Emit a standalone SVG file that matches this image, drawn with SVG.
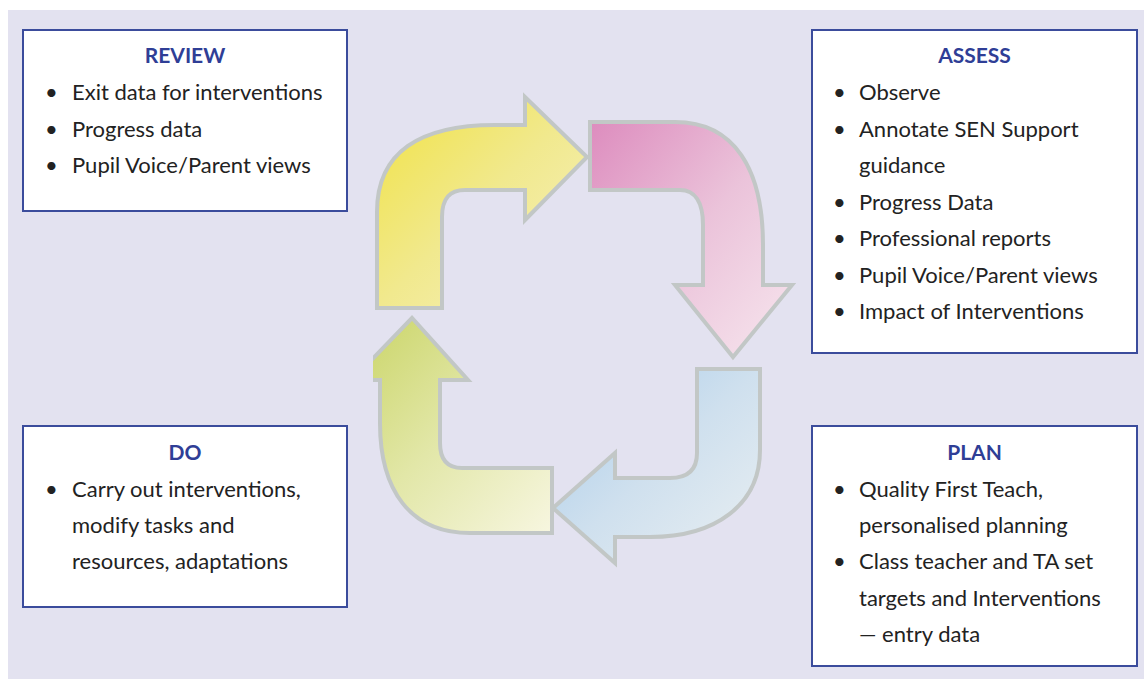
<svg xmlns="http://www.w3.org/2000/svg" width="1144" height="679" viewBox="0 0 1144 679">
<defs>
<style>
.box{fill:#fff;stroke:#3b4c9c;stroke-width:2}
.title{font-family:Lato,"Open Sans",sans-serif;font-weight:bold;font-size:21px;fill:#2f3e96;text-anchor:middle}
.item{font-family:Lato,"Open Sans",sans-serif;font-size:22px;fill:#222}
.arrow{stroke:#c2c7c6;stroke-width:4;stroke-linejoin:miter}
</style>
<linearGradient id="gY" x1="0" y1="0" x2="1" y2="1"><stop offset="0" stop-color="#f1e243"/><stop offset="0.5" stop-color="#f1e98e"/><stop offset="1" stop-color="#f7f1c2"/></linearGradient>
<linearGradient id="gP" x1="0" y1="0" x2="1" y2="1"><stop offset="0" stop-color="#dd8cbe"/><stop offset="0.5" stop-color="#ebc3da"/><stop offset="1" stop-color="#f7e6ee"/></linearGradient>
<linearGradient id="gB" x1="0" y1="0" x2="1" y2="1"><stop offset="0" stop-color="#a8ccea"/><stop offset="0.5" stop-color="#cfe0ee"/><stop offset="1" stop-color="#e9eff2"/></linearGradient>
<linearGradient id="gG" x1="0" y1="0" x2="1" y2="1"><stop offset="0" stop-color="#c9d464"/><stop offset="0.5" stop-color="#e2e7a8"/><stop offset="1" stop-color="#f7f6e0"/></linearGradient>
<clipPath id="clipG"><rect x="373" y="0" width="400" height="679"/></clipPath>
</defs>
<rect x="0" y="0" width="1144" height="679" fill="#ffffff"/>
<rect x="8" y="10" width="1136" height="669" fill="#e3e2f0"/>
<g id="connectors">
<path id="arrow-review-assess" class="arrow" fill="url(#gY)" d="M377,308 L377,212 C377,152 420,125 495,125 L525,125 L525,97 L587,157 L525,220 L525,190 L465,190 C450,190 442,198 442,217 L442,308 Z"/>
<path id="arrow-assess-plan" class="arrow" fill="url(#gP)" d="M590,122 L675,122 C735,122 763,170 763,245 L763,285 L792,285 L733,357 L675,285 L703,285 L703,225 C703,202 695,190 680,190 L590,190 Z"/>
<path id="arrow-plan-do" class="arrow" fill="url(#gB)" d="M697,369 L760,369 L760,450 C760,505 715,537 650,537 L615,537 L615,563 L553,508 L615,453 L615,478 L670,478 C688,478 697,470 697,453 Z"/>
<g clip-path="url(#clipG)">
<path id="arrow-do-review" class="arrow" fill="url(#gG)" d="M552,468 L552,533 L470,533 C410,533 380,490 380,423 L380,380 L352,380 L412,318 L468,380 L440,380 L440,443 C440,460 448,468 462,468 Z"/>
</g>
</g>
<g id="review">
<rect class="box" x="23" y="30" width="324" height="181"/>
<text class="title" x="185" y="63">REVIEW</text>
<text class="item" x="45" y="100">•</text><text class="item" x="72" y="100">Exit data for interventions</text>
<text class="item" x="45" y="137">•</text><text class="item" x="72" y="137">Progress data</text>
<text class="item" x="45" y="173">•</text><text class="item" x="72" y="173">Pupil Voice/Parent views</text>
</g>
<g id="assess">
<rect class="box" x="812" y="30" width="325" height="323"/>
<text class="title" x="974.5" y="63">ASSESS</text>
<text class="item" x="833" y="100">•</text><text class="item" x="859" y="100">Observe</text>
<text class="item" x="833" y="137">•</text><text class="item" x="859" y="137">Annotate SEN Support</text>
<text class="item" x="859" y="173">guidance</text>
<text class="item" x="833" y="210">•</text><text class="item" x="859" y="210">Progress Data</text>
<text class="item" x="833" y="246">•</text><text class="item" x="859" y="246">Professional reports</text>
<text class="item" x="833" y="283">•</text><text class="item" x="859" y="283">Pupil Voice/Parent views</text>
<text class="item" x="833" y="319">•</text><text class="item" x="859" y="319">Impact of Interventions</text>
</g>
<g id="do">
<rect class="box" x="23" y="426" width="324" height="181"/>
<text class="title" x="185" y="460">DO</text>
<text class="item" x="45" y="497">•</text><text class="item" x="72" y="497">Carry out interventions,</text>
<text class="item" x="72" y="533">modify tasks and</text>
<text class="item" x="72" y="569">resources, adaptations</text>
</g>
<g id="plan">
<rect class="box" x="812" y="426" width="325" height="240"/>
<text class="title" x="974.5" y="460">PLAN</text>
<text class="item" x="833" y="497">•</text><text class="item" x="859" y="497">Quality First Teach,</text>
<text class="item" x="859" y="533">personalised planning</text>
<text class="item" x="833" y="569">•</text><text class="item" x="859" y="569">Class teacher and TA set</text>
<text class="item" x="859" y="606">targets and Interventions</text>
<text class="item" x="859" y="642">— entry data</text>
</g>
</svg>
